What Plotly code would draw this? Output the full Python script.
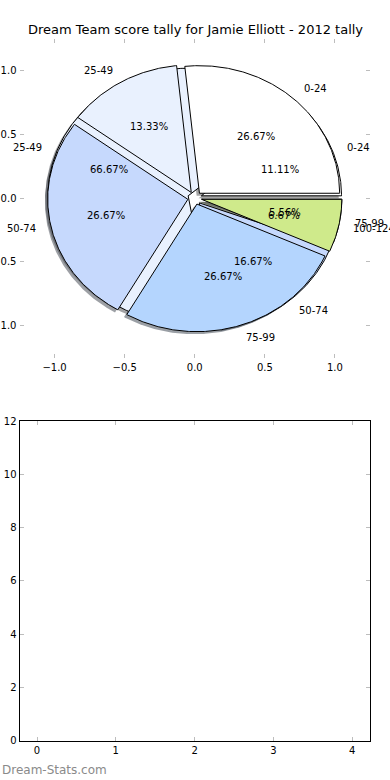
import numpy as np
import plotly.graph_objects as go

title = "Dream Team score tally for Jamie Elliott - 2012 tally"
# top pie (drawn last, on top)
labels_a = ["0-24", "25-49", "50-74", "75-99", "100-124"]
values_a = [4, 2, 4, 4, 1]
# second pie (drawn first, underneath)
labels_b = ["0-24", "25-49", "50-74", "75-99"]
values_b = [2, 12, 3, 1]
colors = ["#ffffff", "#e9f1fe", "#c6d9fd", "#b4d5fe", "#cfea8b"]
explode = 0.05
shadow_off = 0.02

bar_x_ticks = [0, 1, 2, 3, 4]
bar_y_ticks = [0, 2, 4, 6, 8, 10, 12]

FONT = "DejaVu Sans"


def wedge_geom(values):
    total = float(sum(values))
    out = []
    t = 0.0
    for v in values:
        t1 = t
        t2 = t + 360.0 * v / total
        mid = np.deg2rad((t1 + t2) / 2)
        cx, cy = explode * np.cos(mid), explode * np.sin(mid)
        n = max(3, int(abs(t2 - t1) * 2) + 1)
        ang = np.deg2rad(np.linspace(t1, t2, n))
        xs = np.concatenate([[cx], cx + np.cos(ang), [cx]])
        ys = np.concatenate([[cy], cy + np.sin(ang), [cy]])
        out.append(dict(xs=xs, ys=ys, cx=cx, cy=cy, mid=mid, pct=100.0 * v / total))
        t = t2
    return out


def hex_to_rgb(h):
    h = h.lstrip("#")
    return tuple(int(h[i:i + 2], 16) for i in (0, 2, 4))


geo_a = wedge_geom(values_a)
geo_b = wedge_geom(values_b)

fig = go.Figure()

# shadows (below all wedges)
for geo in (geo_b, geo_a):
    for i, g in enumerate(geo):
        r, gg, b = hex_to_rgb(colors[i])
        col = f"rgba({int(r*0.3)},{int(gg*0.3)},{int(b*0.3)},0.5)"
        fig.add_trace(go.Scatter(x=g["xs"] - shadow_off, y=g["ys"] - shadow_off, mode="lines",
                                 fill="toself", fillcolor=col, line=dict(color=col, width=0),
                                 hoverinfo="skip", showlegend=False, xaxis="x", yaxis="y"))

# wedges
for geo in (geo_b, geo_a):
    for i, g in enumerate(geo):
        fig.add_trace(go.Scatter(x=g["xs"], y=g["ys"], mode="lines", fill="toself",
                                 fillcolor=colors[i], line=dict(color="black", width=1),
                                 hoverinfo="skip", showlegend=False, xaxis="x", yaxis="y"))

annotations = []
for geo, labels in ((geo_b, labels_b), (geo_a, labels_a)):
    for g, lab in zip(geo, labels):
        lx = g["cx"] + 1.1 * np.cos(g["mid"])
        ly = g["cy"] + 1.1 * np.sin(g["mid"])
        annotations.append(dict(x=lx, y=ly, xref="x", yref="y", text=lab, showarrow=False,
                                xanchor="left" if lx > 0 else "right", yanchor="middle",
                                font=dict(family=FONT, size=10, color="black"), borderpad=0))
        px = g["cx"] + 0.6 * np.cos(g["mid"])
        py = g["cy"] + 0.6 * np.sin(g["mid"])
        annotations.append(dict(x=px, y=py, xref="x", yref="y", text=f"{g['pct']:.2f}%",
                                showarrow=False, xanchor="center", yanchor="middle",
                                font=dict(family=FONT, size=10, color="black"), borderpad=0))

annotations.append(dict(x=0.5, y=1 - 30 / 780, xref="paper", yref="paper", text=title,
                        showarrow=False, xanchor="center", yanchor="middle",
                        font=dict(family=FONT, size=13, color="black")))
annotations.append(dict(x=0, y=1 - 770 / 780, xref="paper", yref="paper", text="Dream-Stats.com",
                        showarrow=False, xanchor="left", yanchor="middle",
                        font=dict(family=FONT, size=12, color="#8a8a8a")))

# empty bottom axes
fig.add_trace(go.Scatter(x=[], y=[], xaxis="x2", yaxis="y2", showlegend=False))

axis_common = dict(ticks="inside", ticklen=4, tickcolor="#bdbdbd", tickwidth=1,
                   showgrid=False, zeroline=False, automargin=False,
                   tickfont=dict(family=FONT, size=10, color="black"))

fig.update_layout(
    width=390, height=780,
    margin=dict(l=0, r=0, t=0, b=0, autoexpand=False),
    paper_bgcolor="white", plot_bgcolor="white",
    showlegend=False,
    annotations=annotations,
    xaxis=dict(domain=[19.5 / 390, 370 / 390], range=[-1.25, 1.25], anchor="y",
               tickvals=[-1, -0.5, 0, 0.5, 1], tickformat=".1f",
               showline=True, linecolor="rgba(0,0,0,0)", mirror="ticks", **axis_common),
    yaxis=dict(domain=[1 - 357.5 / 780, 1 - 38.5 / 780], range=[-1.25, 1.25], anchor="x",
               tickvals=[-1, -0.5, 0, 0.5, 1], tickformat=".1f",
               showline=True, linecolor="rgba(0,0,0,0)", mirror="ticks", **axis_common),
    xaxis2=dict(domain=[19.5 / 390, 370 / 390], range=[-0.222, 4.225], anchor="y2",
                tickvals=bar_x_ticks, showline=True, linecolor="black", linewidth=1,
                mirror="ticks", **axis_common),
    yaxis2=dict(domain=[1 - 740.5 / 780, 1 - 421 / 780], range=[0, 12], anchor="x2",
                tickvals=bar_y_ticks, showline=True, linecolor="black", linewidth=1,
                mirror="ticks", **axis_common),
)

fig.write_html("out.html", config={"displayModeBar": False, "staticPlot": True},
               post_script="document.body.style.margin='0';document.body.style.padding='0';"
                           "document.body.style.overflow='hidden';")
